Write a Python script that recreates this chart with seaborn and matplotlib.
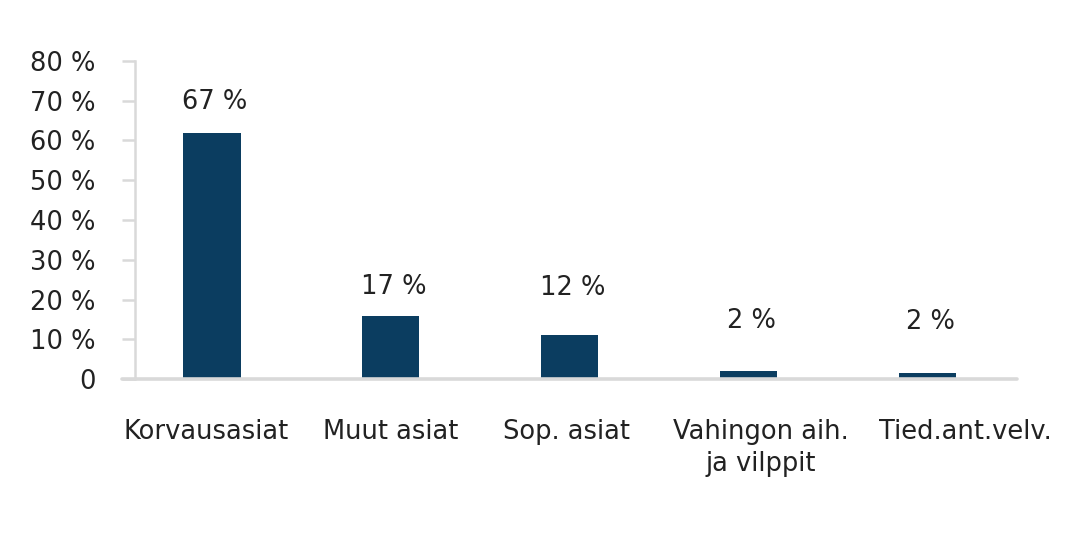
import matplotlib
matplotlib.use("Agg")
import matplotlib.pyplot as plt
import matplotlib.transforms as mtrans
import seaborn as sns
import pandas as pd
from matplotlib.lines import Line2D

# ---- data ----
categories = ["Korvausasiat", "Muut asiat", "Sop. asiat", "Vahingon aih.\nja vilppit", "Tied.ant.velv."]
bar_values = [62, 15.8, 11, 2, 1.5]
value_labels = ["67 %", "17 %", "12 %", "2 %", "2 %"]
y_ticks = [0, 10, 20, 30, 40, 50, 60, 70, 80]
y_tick_labels = ["0", "10 %", "20 %", "30 %", "40 %", "50 %", "60 %", "70 %", "80 %"]

# ---- style / layout ----
label_offsets_pt = [22, 21, 34, 36, 37]
xlabel_shift_px = [-6, 0, -3, 12, 38]
bar_color = "#0b3d60"
axis_color = "#d9d9d9"
text_color = "#222222"
fs = 18.5

sns.set_theme(style="white")
plt.rcParams["font.family"] = ["DejaVu Sans"]

W, H = 1068, 546
fig = plt.figure(figsize=(W / 100, H / 100), dpi=100)
left_px, right_px, top_px, bottom_px = 135, 1017, 61, 379
ax = fig.add_axes([left_px / W, 1 - bottom_px / H, (right_px - left_px) / W, (bottom_px - top_px) / H])

df = pd.DataFrame({"cat": categories, "val": bar_values})
sns.barplot(data=df, x="cat", y="val", color=bar_color, width=0.32, ax=ax,
            saturation=1, edgecolor="none")

ax.set_xlim(-0.43, 4.5)
ax.set_ylim(0, 80)
ax.set_yticks(y_ticks)
ax.set_yticklabels(y_tick_labels)
ax.set_xlabel("")
ax.set_ylabel("")

for s in ["top", "right", "bottom"]:
    ax.spines[s].set_visible(False)
ax.spines["left"].set_color(axis_color)
ax.spines["left"].set_linewidth(1.8)

ax.tick_params(axis="y", direction="out", length=9.5, width=1.8, color=axis_color,
               labelsize=fs, labelcolor=text_color, pad=19, left=True)
ax.tick_params(axis="x", length=0, labelsize=fs, labelcolor=text_color, pad=29)
for t, dx in zip(ax.get_xticklabels(), xlabel_shift_px):
    t.set_linespacing(1.3)
    t.set_transform(t.get_transform() + mtrans.Affine2D().translate(dx, 0))

# bottom axis line extending slightly left of the y axis
ax.add_line(Line2D([-0.015, 1.0], [0, 0], transform=ax.transAxes,
                   color=axis_color, lw=2.6, clip_on=False, zorder=5))

for i, (v, lab, off) in enumerate(zip(bar_values, value_labels, label_offsets_pt)):
    ax.annotate(lab, xy=(i, v), xytext=(2, off), textcoords="offset points",
                ha="center", va="center", fontsize=fs, color=text_color)

fig.savefig("out.png", dpi=100, facecolor="white")
